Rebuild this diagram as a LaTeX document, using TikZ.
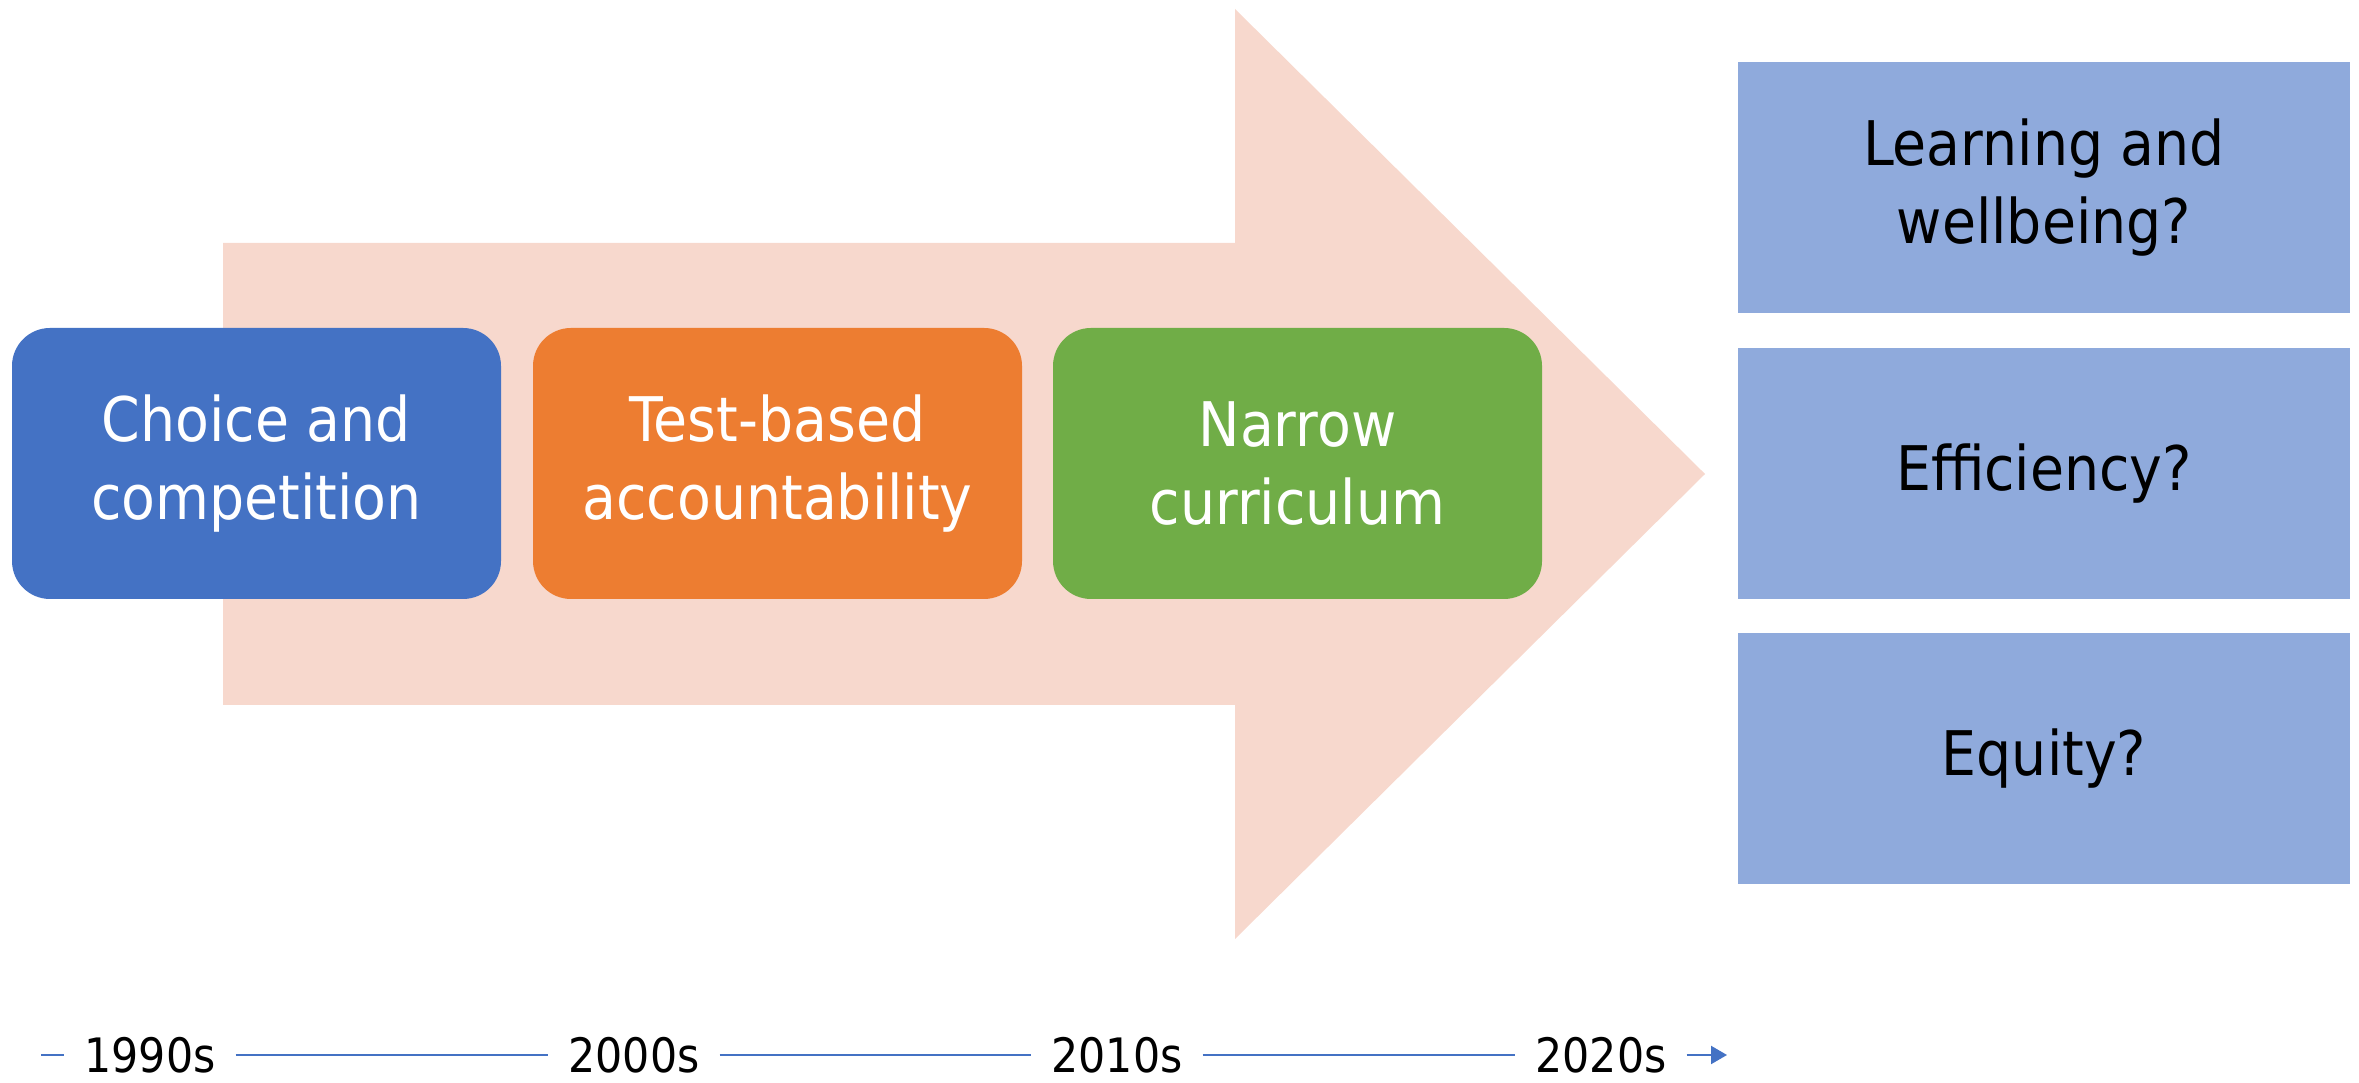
\documentclass[tikz,border=0pt]{standalone}
\usepackage{fontspec}
\setmainfont{DejaVu Sans}[FakeStretch=0.9]
\usepackage{xcolor}
\usepackage{tikz}
\usetikzlibrary{arrows.meta,positioning}

\definecolor{arrowpeach}{HTML}{F7D8CD}
\definecolor{ablue}{HTML}{4472C4}
\definecolor{aorange}{HTML}{ED7D31}
\definecolor{agreen}{HTML}{70AD47}
\definecolor{qblue}{HTML}{8FAADC}

\begin{document}
\begin{tikzpicture}[
    era/.style = {rounded corners=0.38cm, minimum width=4.89cm, minimum height=2.71cm,
                  text=white, align=center, font=\fontsize{17.5}{22}\selectfont},
    ask/.style = {fill=qblue, minimum width=6.12cm, minimum height=2.51cm,
                  align=center, font=\fontsize{17.5}{22}\selectfont},
    decade/.style = {minimum width=1.7cm, inner sep=0pt, font=\fontsize{13.5}{16}\selectfont},
    tline/.style = {ablue, line width=0.6pt}
]
    \useasboundingbox (0,0) rectangle (23.59,10.83);

    % Big arrow
    \fill[arrowpeach] (2.23,8.40) -- (12.35,8.40) -- (12.35,10.74) -- (17.05,6.09)
        -- (12.35,1.44) -- (12.35,3.78) -- (2.23,3.78) -- cycle;

    % Eras
    \node at (2.565,6.195) [era,fill=ablue] (choice) {Choice and\\competition};
    \node at (7.775,6.195) [era,fill=aorange] (test) {Test-based\\accountability};
    \node at (12.975,6.195) [era,fill=agreen] (narrow) {Narrow\\curriculum};

    % Questions
    \node at (20.44,8.955) [ask] (learn) {Learning and\\wellbeing?};
    \node at (20.44,6.095) [ask] (effic) {Efficiency?};
    \node at (20.44,3.24) [ask] (equity) {Equity?};

    % Timeline
    \coordinate (tstart) at (0.41,0.28);
    \node at (1.50,0.28) [decade] (d1990) {1990s};
    \node at (6.34,0.28) [decade] (d2000) {2000s};
    \node at (11.17,0.28) [decade] (d2010) {2010s};
    \node at (16.01,0.28) [decade] (d2020) {2020s};
    \coordinate (tend) at (17.27,0.28);

    \draw[tline] (tstart) -- (d1990);
    \draw[tline] (d1990) -- (d2000);
    \draw[tline] (d2000) -- (d2010);
    \draw[tline] (d2010) -- (d2020);
    \draw[tline,-{Triangle[length=0.16cm,width=0.18cm]}] (d2020) -- (tend);
\end{tikzpicture}
\end{document}
